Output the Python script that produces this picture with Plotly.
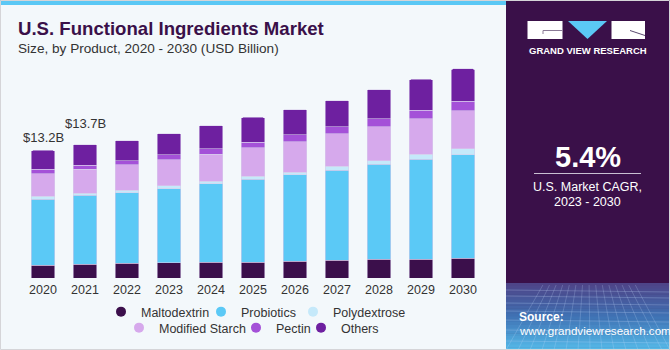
import plotly.graph_objects as go

# ---------------- data ----------------
years = ["2020", "2021", "2022", "2023", "2024", "2025", "2026", "2027", "2028", "2029", "2030"]
maltodextrin = [1.34, 1.44, 1.50, 1.58, 1.60, 1.65, 1.71, 1.81, 1.92, 1.95, 2.06]
probiotics = [6.80, 7.07, 7.31, 7.60, 8.10, 8.55, 8.93, 9.28, 9.83, 10.28, 10.65]
polydextrose = [0.31, 0.25, 0.25, 0.31, 0.25, 0.27, 0.26, 0.41, 0.34, 0.52, 0.59]
modified_starch = [2.31, 2.44, 2.60, 2.68, 2.82, 2.96, 3.13, 3.37, 3.50, 3.68, 3.95]
pectin = [0.44, 0.45, 0.45, 0.55, 0.55, 0.59, 0.75, 0.72, 0.82, 0.89, 0.96]
others = [1.96, 2.10, 2.06, 2.16, 2.40, 2.54, 2.58, 2.68, 2.99, 3.16, 3.34]
series_names = ["Maltodextrin", "Probiotics", "Polydextrose", "Modified Starch", "Pectin", "Others"]
series_values = [maltodextrin, probiotics, polydextrose, modified_starch, pectin, others]
series_colors = ["#3B0F4B", "#5BC9F6", "#C5E9FA", "#D6A9EC", "#A451D8", "#6E20A0"]
total_labels = {"2020": ("$13.2B", 13.2, 3), "2021": ("$13.7B", 13.7, 12)}
cagr_text = "5.4%"

# ---------------- geometry helpers ----------------
W, H = 670, 350
ML, MR, MT, MB = 22, 186, 60, 72
PW, PH = W - ML - MR, H - MT - MB


def X(px):
    return (px - ML) / PW


def Y(py):
    return (H - MB - py) / PH


TEXT = "#333333"
FONT = "Liberation Sans, Arial, sans-serif"

fig = go.Figure()
for name, vals, col in zip(series_names, series_values, series_colors):
    fig.add_trace(go.Bar(
        x=years, y=vals, name=name, marker=dict(color=col, line=dict(color="rgba(215,205,235,0.7)", width=0.8)),
        showlegend=False, hoverinfo="x+y+name"))

# legend entries (circles), each in its own legend so rows can be centred like the reference
legend_pos = [(123, 312), (223, 312), (315, 312), (141, 328), (258, 328), (323, 328)]
legend_layout = {}
for i, (name, col) in enumerate(zip(series_names, series_colors)):
    key = "legend" if i == 0 else "legend%d" % (i + 1)
    fig.add_trace(go.Scatter(
        x=[None], y=[None], mode="markers", name=name, xaxis="x2", yaxis="y2",
        marker=dict(color=col, size=10, symbol="circle"),
        legend=key, showlegend=True))
    mx, my = legend_pos[i]
    legend_layout[key] = dict(orientation="h", x=X(mx - 22), xanchor="left", y=Y(my), yanchor="middle",
                              font=dict(size=12.5, color=TEXT), bgcolor="rgba(0,0,0,0)", itemwidth=30)

shapes = []
annotations = []

# top blue strip over left area
shapes.append(dict(type="rect", xref="paper", yref="paper", x0=X(0), x1=X(506), y0=Y(5), y1=Y(0),
                   fillcolor="#5BC8F5", line=dict(width=0), layer="below"))
# right panel
shapes.append(dict(type="rect", xref="paper", yref="paper", x0=X(506), x1=X(670), y0=Y(350), y1=Y(0),
                   fillcolor="#3A1049", line=dict(width=0), layer="below"))


# gradient at bottom of panel
def lerp(c1, c2, t):
    a = [int(c1[i:i + 2], 16) for i in (1, 3, 5)]
    b = [int(c2[i:i + 2], 16) for i in (1, 3, 5)]
    return "rgb(%d,%d,%d)" % tuple(round(a[k] + (b[k] - a[k]) * t) for k in range(3))


g_top, g_bot = 283, 350
n = 24
for k in range(n):
    y0 = g_top + (g_bot - g_top) * k / n
    y1 = g_top + (g_bot - g_top) * (k + 1) / n
    t = k / (n - 1)
    if t < 0.5:
        c = lerp("#4E4488", "#3F72B4", t / 0.5)
    else:
        c = lerp("#3F72B4", "#55B8E8", (t - 0.5) / 0.5)
    shapes.append(dict(type="rect", xref="paper", yref="paper", x0=X(506), x1=X(670), y0=Y(y1 + 0.5), y1=Y(y0),
                       fillcolor=c, line=dict(width=0), layer="below"))
# faint grid texture
for yy in [290, 296, 303, 311, 320, 330, 341]:
    shapes.append(dict(type="line", xref="paper", yref="paper", x0=X(506), x1=X(670), y0=Y(yy), y1=Y(yy + 2),
                       line=dict(color="rgba(200,225,255,0.25)", width=1), layer="below"))
for xx in range(506, 676, 12):
    shapes.append(dict(type="line", xref="paper", yref="paper", x0=X(588 + (xx - 588) * 0.55), x1=X(min(xx, 670)), y0=Y(285), y1=Y(350),
                       line=dict(color="rgba(200,225,255,0.22)", width=1), layer="below"))

# logo
shapes.append(dict(type="rect", xref="paper", yref="paper", x0=X(527.5), x1=X(562.5), y0=Y(39), y1=Y(21),
                   fillcolor="white", line=dict(width=0)))
shapes.append(dict(type="line", xref="paper", yref="paper", x0=X(543), x1=X(562.5), y0=Y(30.5), y1=Y(30.5),
                   line=dict(color="#8A7A96", width=1)))
shapes.append(dict(type="line", xref="paper", yref="paper", x0=X(543), x1=X(543), y0=Y(30.5), y1=Y(34),
                   line=dict(color="#8A7A96", width=1)))
shapes.append(dict(type="path", xref="paper", yref="paper",
                   path="M %f %f L %f %f L %f %f Z" % (X(568), Y(21), X(607), Y(21), X(587.5), Y(39)),
                   fillcolor="#5BC8F5", line=dict(width=0)))
shapes.append(dict(type="rect", xref="paper", yref="paper", x0=X(611.5), x1=X(645), y0=Y(39), y1=Y(21),
                   fillcolor="white", line=dict(width=0)))
shapes.append(dict(type="line", xref="paper", yref="paper", x0=X(630), x1=X(645), y0=Y(30.5), y1=Y(35.5),
                   line=dict(color="#5A4A70", width=1)))
# divider under CAGR
shapes.append(dict(type="line", xref="paper", yref="paper", x0=X(534), x1=X(641), y0=Y(173.5), y1=Y(173.5),
                   line=dict(color="#C9C0D2", width=1)))
# outer light border
shapes.append(dict(type="rect", xref="paper", yref="paper", x0=X(0.5), x1=X(669.5), y0=Y(349.5), y1=Y(0.5),
                   line=dict(color="#D5D5D8", width=1), fillcolor="rgba(0,0,0,0)"))


def txt(x, y, s, size, color="white", bold=False, xanchor="center", family=FONT):
    annotations.append(dict(x=X(x), y=Y(y), xref="paper", yref="paper", text=("<b>%s</b>" % s) if bold else s,
                            showarrow=False, xanchor=xanchor, yanchor="middle",
                            font=dict(size=size, color=color, family=family)))


txt(16, 28, "U.S. Functional Ingredients Market", 18.6, color="#3A1049", bold=True, xanchor="left")
txt(16, 48, "Size, by Product, 2020 - 2030 (USD Billion)", 13.6, color=TEXT, xanchor="left")
txt(587.5, 51, "GRAND VIEW RESEARCH", 9.5, bold=True)
txt(587.5, 157, cagr_text, 29, bold=True)
txt(587.5, 187, "U.S. Market CAGR,", 12.5)
txt(587.5, 202, "2023 - 2030", 12.5)
txt(517, 317, "Source:", 12, bold=True, xanchor="left")
txt(517, 330.5, "www.grandviewresearch.com", 11.6, xanchor="left")

for yr, (lab, val, shift) in total_labels.items():
    annotations.append(dict(x=years.index(yr), y=val, xref="x", yref="y", text=lab, showarrow=False,
                            yanchor="bottom", yshift=shift, font=dict(size=13, color=TEXT, family=FONT)))

fig.update_layout(
    width=W, height=H, margin=dict(l=ML, r=MR, t=MT, b=MB, autoexpand=False),
    paper_bgcolor="#F3F8FB", plot_bgcolor="rgba(0,0,0,0)",
    barmode="stack", bargap=0.43, barcornerradius=2,
    font=dict(family=FONT, color=TEXT),
    xaxis=dict(type="category", categoryorder="array", categoryarray=years, range=[-0.5, len(years) - 0.5],
               showgrid=False, showline=False, zeroline=False, ticks="", ticklabelstandoff=2,
               tickfont=dict(size=12.5, color=TEXT), fixedrange=True, automargin=False),
    yaxis=dict(range=[0, PH / 9.7], visible=False, showgrid=False, fixedrange=True),
    xaxis2=dict(overlaying="x", visible=False, range=[0, 1], fixedrange=True),
    yaxis2=dict(overlaying="y", visible=False, range=[0, 1], fixedrange=True),
    shapes=shapes, annotations=annotations,
    **legend_layout,
)

fig.write_html("out.html")
